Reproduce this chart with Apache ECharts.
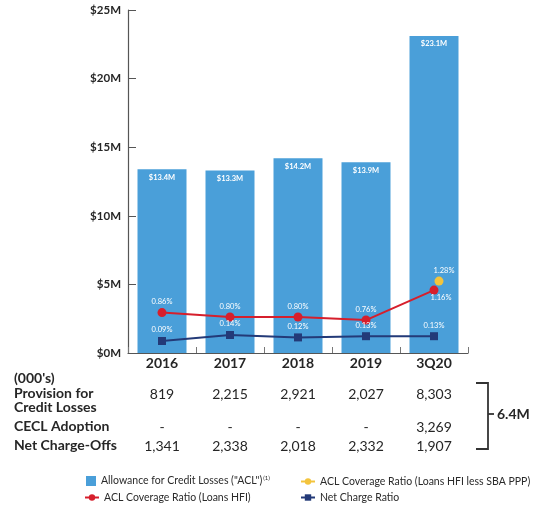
<!DOCTYPE html>
<html>
<head>
<meta charset="utf-8">
<script src="https://cdn.jsdelivr.net/npm/echarts@6/dist/echarts.min.js"></script>
<style>
  html, body { margin: 0; padding: 0; background: #ffffff; }
  #chart { width: 541px; height: 505px; }
</style>
</head>
<body>
<div id="chart"></div>
<script>
// Periods shown along the category axis
const categories = ['2016', '2017', '2018', '2019', '3Q20'];

// Allowance for credit losses, $ millions
const aclValues = [13.4, 13.3, 14.2, 13.9, 23.1];

// Ratios, percent
const coverageHFI = [0.86, 0.80, 0.80, 0.76, 1.16];
const coverageExPPP = [null, null, null, null, 1.28];
const netChargeRatio = [0.09, 0.14, 0.12, 0.13, 0.13];

// Left axis ticks ($M)
const yMin = 0, yMax = 25, yStep = 5;

// Table rows below the chart (000's)
const provisionRow = ['819', '2,215', '2,921', '2,027', '8,303'];
const ceclRow = ['-', '-', '-', '-', '3,269'];
const chargeOffRow = ['1,341', '2,338', '2,018', '2,332', '1,907'];
const bracketTotal = '6.4M';

const NAME_ACL = 'Allowance for Credit Losses ("ACL")';
const NAME_PPP = 'ACL Coverage Ratio (Loans HFI less SBA PPP)';
const NAME_HFI = 'ACL Coverage Ratio (Loans HFI)';
const NAME_NCR = 'Net Charge Ratio';

const BLUE = '#4a9fd9';
const RED = '#d61f2c';
const NAVY = '#233a78';
const GOLD = '#f3c43d';
const INK = '#262626';
const FONT = 'Lato, "Open Sans", sans-serif';

const pct = v => v.toFixed(2) + '%';
const lineLabel = {
  show: true, color: '#ffffff', fontSize: 7.5, fontFamily: FONT,
  position: 'top', distance: 2, formatter: p => pct(p.value)
};

const chart = echarts.init(document.getElementById('chart'), null, { renderer: 'canvas' });

const legendText = {
  fontSize: 10.5, color: '#2a2a2a', fontFamily: FONT,
  rich: { sup: { fontSize: 6, color: '#2a2a2a', verticalAlign: 'top', padding: [0, 0, 6, 1] } }
};
const legendBase = { orient: 'horizontal', itemWidth: 14, itemHeight: 8, textStyle: legendText, padding: 0 };

chart.setOption({
  animation: false,
  textStyle: { fontFamily: FONT },
  grid: { left: 128, right: 73, top: 10, bottom: 152, containLabel: false },
  legend: [
    Object.assign({}, legendBase, {
      data: [{ name: NAME_ACL, icon: 'rect' }], left: 86, top: 475, itemWidth: 10, itemHeight: 10,
      formatter: n => n + '{sup|(1)}'
    }),
    Object.assign({}, legendBase, { data: [NAME_PPP], left: 300, top: 476 }),
    Object.assign({}, legendBase, { data: [NAME_HFI], left: 84, top: 492 }),
    Object.assign({}, legendBase, { data: [NAME_NCR], left: 300, top: 492 })
  ],
  xAxis: {
    type: 'category',
    data: categories,
    axisLine: { lineStyle: { color: '#555555', width: 1.2 } },
    axisTick: { show: true, inside: true, length: 6, lineStyle: { color: '#777777' } },
    axisLabel: { color: INK, fontWeight: 'bold', fontSize: 14, margin: 3, fontFamily: FONT }
  },
  yAxis: [
    {
      type: 'value', min: yMin, max: yMax, interval: yStep,
      axisLine: { show: true, lineStyle: { color: '#555555', width: 1.2 } },
      axisTick: { show: true, inside: true, length: 8, lineStyle: { color: '#555555' } },
      splitLine: { show: false },
      axisLabel: { color: INK, fontWeight: 'bold', fontSize: 11.5, margin: 7, fontFamily: FONT,
                   formatter: v => '$' + v + 'M' }
    },
    { type: 'value', show: false, min: 0.32, max: 4.9, splitLine: { show: false } },
    { type: 'value', show: false, min: -0.01, max: 2.85, splitLine: { show: false } }
  ],
  series: [
    {
      name: NAME_ACL, type: 'bar', data: aclValues, barWidth: 49,
      itemStyle: { color: BLUE },
      label: { show: true, position: 'insideTop', distance: 4, color: '#ffffff',
               fontSize: 7.5, fontWeight: 'bold', fontFamily: FONT,
               formatter: p => '$' + p.value.toFixed(1) + 'M' }
    },
    {
      name: NAME_PPP, type: 'line', yAxisIndex: 1, data: coverageExPPP,
      symbol: 'circle', symbolSize: 9, symbolOffset: [5, 0], z: 3,
      itemStyle: { color: GOLD }, lineStyle: { color: GOLD, width: 2 },
      label: Object.assign({}, lineLabel, { offset: [5, 0] })
    },
    {
      name: NAME_HFI, type: 'line', yAxisIndex: 1,
      // the last HFI label sits below its point, nudged right of the gold marker
      data: coverageHFI.map((v, i) => i === coverageHFI.length - 1
        ? { value: v, label: { position: 'bottom', distance: 1, offset: [7, -2] } }
        : v),
      symbol: 'circle', symbolSize: 9, z: 4,
      itemStyle: { color: RED }, lineStyle: { color: RED, width: 2 },
      label: lineLabel
    },
    {
      name: NAME_NCR, type: 'line', yAxisIndex: 2, data: netChargeRatio,
      symbol: 'rect', symbolSize: 8, z: 4,
      itemStyle: { color: NAVY }, lineStyle: { color: NAVY, width: 2 },
      label: Object.assign({}, lineLabel, { distance: 3 })
    }
  ]
});

// Table beneath the chart, columns aligned to the category axis
const colX = categories.map(c => chart.convertToPixel({ xAxisIndex: 0 }, c));
const rowHead = (text, y) => ({
  type: 'text', left: 14, top: y - 8,
  style: { text, fontSize: 14, fontWeight: 'bold', fill: INK, fontFamily: FONT }
});
const rowVals = (vals, y) => vals.map((t, i) => ({
  type: 'text', x: colX[i], y: y,
  style: { text: t, fontSize: 14, fill: INK, fontFamily: FONT, align: 'center', verticalAlign: 'middle' }
}));

const yProv = 394.5, yCecl = 427.5, yNco = 446.5;
const bx = 488, bTop = 383, bBot = 449, bMid = 414;
const stroke = { stroke: '#333333', lineWidth: 1.8 };

chart.setOption({
  graphic: [
    rowHead("(000's)", 379),
    rowHead('Provision for', yProv),
    rowHead('Credit Losses', 408),
    rowHead('CECL Adoption', yCecl),
    rowHead('Net Charge-Offs', yNco),
    ...rowVals(provisionRow, yProv),
    ...rowVals(ceclRow, yCecl),
    ...rowVals(chargeOffRow, yNco),
    { type: 'polyline', shape: { points: [[bx - 12, bTop], [bx, bTop], [bx, bBot], [bx - 12, bBot]] }, style: Object.assign({ fill: null }, stroke) },
    { type: 'line', shape: { x1: bx, y1: bMid, x2: bx + 6, y2: bMid }, style: stroke },
    { type: 'text', x: 497, y: bMid, style: { text: bracketTotal, fontSize: 14, fontWeight: 'bold', fill: INK, fontFamily: FONT, verticalAlign: 'middle' } }
  ]
});
</script>
</body>
</html>
